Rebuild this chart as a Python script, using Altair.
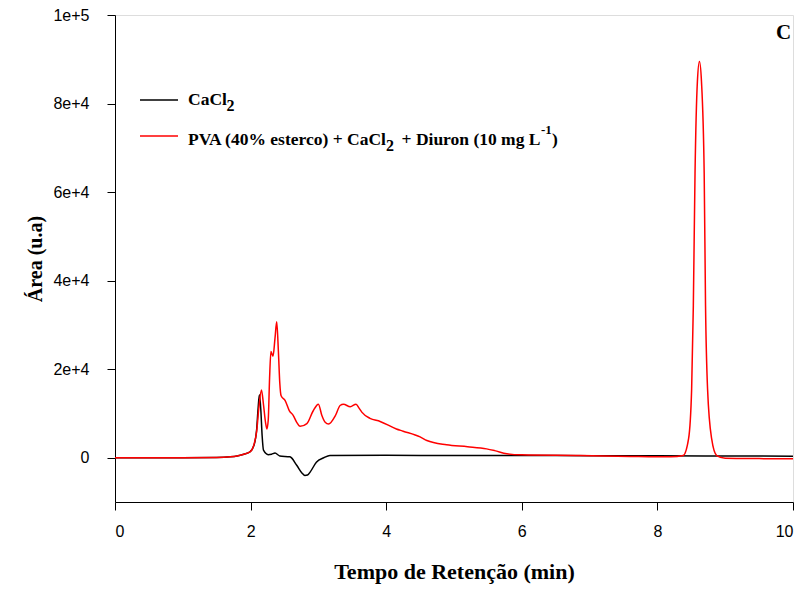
import altair as alt
import pandas as pd

# Series names
cacl2_name = "CaCl2"
pva_name = "PVA (40% esterco) + CaCl2 + Diuron (10 mg L-1)"

# CaCl2 (black) series
cacl2_t = [0.0, 1.0, 1.5, 1.7, 1.8, 1.9, 1.99, 2.05, 2.09, 2.11, 2.13, 2.15, 2.17, 2.19,
           2.26, 2.31, 2.36, 2.43, 2.58, 2.68, 2.76, 2.80, 2.84, 2.88, 2.97, 3.08, 3.17,
           4.0, 5.0, 6.0, 7.0, 8.0, 9.0, 10.0]
cacl2_v = [0, 0, 50, 200, 400, 800, 1300, 2800, 6500, 11000, 14200, 11000, 5000, 1700,
           700, 800, 1050, 400, 200, -1700, -3500, -4000, -3900, -3200, -1000, 0, 500,
           550, 500, 500, 450, 450, 400, 350]

# PVA + CaCl2 + Diuron (red) series
pva_t = [0.0, 1.0, 1.5, 1.7, 1.8, 1.9, 1.99, 2.05, 2.09, 2.12, 2.16, 2.19, 2.22, 2.24,
         2.26, 2.28, 2.30, 2.33, 2.36, 2.385, 2.41, 2.43, 2.45, 2.51, 2.57, 2.63, 2.68,
         2.73, 2.83, 2.92, 3.0, 3.05, 3.1, 3.15, 3.25, 3.32, 3.37, 3.47, 3.555, 3.6,
         3.64, 3.76, 3.91, 4.15, 4.25, 4.5, 4.6, 4.89, 5.2, 5.48, 5.6, 5.78, 6.0, 6.86,
         7.6, 8.2, 8.38, 8.46, 8.505, 8.53, 8.555, 8.59, 8.62, 8.65, 8.69, 8.71, 8.74,
         8.80, 8.875, 9.0, 9.5, 10.0]
pva_v = [0, 0, 50, 200, 400, 800, 1300, 3000, 6000, 11000, 15300, 12000, 8000, 6500,
         8500, 18000, 24000, 22900, 27000, 30700, 24000, 17000, 14000, 12900, 10650, 9530, 8000,
         7100, 7700, 10500, 12100, 9600, 8000, 7600, 9500, 11800, 12100, 11500, 12100, 11200,
         10300, 8900, 8200, 6500, 6000, 4700, 3900, 2930, 2500, 2000, 1600, 900, 650, 500,
         300, 200, 500, 4300, 15500, 34300, 64300, 85000, 89500, 85000, 64300, 34300, 15500,
         4300, 500, -100, -200, -250]

x_ticks = [0, 2, 4, 6, 8, 10]
y_ticks = [0, 20000, 40000, 60000, 80000, 100000]

# Legend label pieces (text, kind): n = normal, sub = subscript, sup = superscript
legend_row1 = [("CaCl", "n"), ("2", "sub")]
legend_row2 = [("PVA (40% esterco) + CaCl", "n"), ("2", "sub"),
               ("+ Diuron (10 mg L", "n"), ("-1", "sup"), (")", "n")]

series_colors = ["#000000", "#ff0000"]

df = pd.concat([
    pd.DataFrame({"t": cacl2_t, "v": cacl2_v, "s": cacl2_name, "o": 0}),
    pd.DataFrame({"t": pva_t, "v": pva_v, "s": pva_name, "o": 1}),
], ignore_index=True)

serif = "Liberation Serif"
sans = "Liberation Sans"

# ---- legend layout (pixels inside the plot area) ----
FS, SUB_FS, SUP_FS = 17.5, 16, 13
kind_style = {"n": (FS, 0), "sub": (SUB_FS, 6), "sup": (SUP_FS, -10.5)}
# (anchor x, alignment) of every piece
row1_pos = [(73, "left"), (111.5, "left")]
row2_pos = [(73, "left"), (271, "left"), (425.5, "right"), (426, "left"), (437, "left")]
row_baselines = [90, 129.7]


def build_pieces(row, pos, baseline):
    recs = []
    for (txt, kind), (x, al) in zip(row, pos):
        size, dy = kind_style[kind]
        recs.append({"txt": txt, "px": x, "py": baseline + dy, "size": size, "al": al})
    return recs


leg_df = pd.DataFrame(build_pieces(legend_row1, row1_pos, row_baselines[0]) +
                      build_pieces(legend_row2, row2_pos, row_baselines[1]))

base_x = alt.X("t:Q", scale=alt.Scale(domain=[0, 10], nice=False),
               axis=alt.Axis(values=x_ticks, title="Tempo de Retenção (min)", grid=False, format="d",
                             labelFont=sans, labelFontSize=16, labelColor="black",
                             tickColor="black", domainColor="black", tickSize=8,
                             labelPadding=13, titleFont=serif, titleFontSize=22,
                             titleFontWeight="bold", titleColor="black", titlePadding=22))
base_y = alt.Y("v:Q", scale=alt.Scale(domain=[-10000, 100000], nice=False, zero=False),
               axis=alt.Axis(values=y_ticks, title="Área (u.a)", grid=False,
                             labelExpr="datum.value == 0 ? '0' : format(datum.value, '.0e')",
                             labelFont=sans, labelFontSize=16, labelColor="black",
                             tickColor="black", domainColor="black", tickSize=8,
                             labelPadding=18, titleFont=serif, titleFontSize=20,
                             titleFontWeight="bold", titleColor="black", titlePadding=7))

lines = alt.Chart(df).mark_line(strokeWidth=1.5, interpolate="monotone").encode(
    x=base_x,
    y=base_y,
    color=alt.Color("s:N", scale=alt.Scale(domain=[cacl2_name, pva_name], range=series_colors),
                    legend=None),
    order=alt.Order("o:Q"),
    detail="s:N",
)

# Legend line samples
sample1 = alt.Chart(pd.DataFrame({"a": [0]})).mark_rule(color=series_colors[0], strokeWidth=1.5).encode(
    x=alt.value(25), x2=alt.value(63), y=alt.value(85))
sample2 = alt.Chart(pd.DataFrame({"a": [0]})).mark_rule(color=series_colors[1], strokeWidth=1.5).encode(
    x=alt.value(25), x2=alt.value(63), y=alt.value(121))

leg_left = alt.Chart(leg_df).transform_filter("datum.al == 'left'").mark_text(
    font=serif, fontWeight="bold", align="left", baseline="alphabetic", color="black").encode(
    x=alt.X("px:Q", scale=None), y=alt.Y("py:Q", scale=None), text="txt:N",
    size=alt.Size("size:Q", scale=None, legend=None))
leg_right = alt.Chart(leg_df).transform_filter("datum.al == 'right'").mark_text(
    font=serif, fontWeight="bold", align="right", baseline="alphabetic", color="black").encode(
    x=alt.X("px:Q", scale=None), y=alt.Y("py:Q", scale=None), text="txt:N",
    size=alt.Size("size:Q", scale=None, legend=None))

label_df = pd.DataFrame({"t": [9.86], "v": [96000], "txt": ["C"]})
ctext = alt.Chart(label_df).mark_text(font=serif, fontWeight="bold", fontSize=21,
                                       align="center", baseline="middle", color="black").encode(
    x="t:Q", y="v:Q", text="txt:N")

chart = alt.layer(lines, sample1, sample2, leg_left, leg_right, ctext).properties(
    width=678, height=487,
    autosize=alt.AutoSizeParams(type="none"),
    padding={"left": 115, "top": 15, "right": 16, "bottom": 90},
).configure_view(stroke="black", strokeWidth=1).configure(background="white")

chart.save("out.html", embed_options={"renderer": "svg", "actions": False})
